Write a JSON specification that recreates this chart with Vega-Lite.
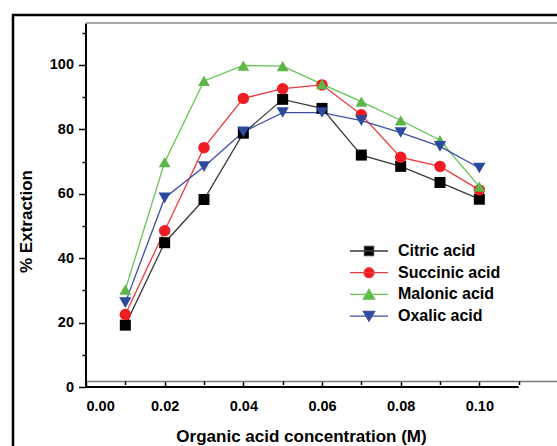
{
  "$schema": "https://vega.github.io/schema/vega-lite/v6.json",
  "width": 547,
  "height": 434,
  "autosize": {"type": "none"},
  "padding": {"left": 13, "top": 15, "right": -3, "bottom": -3},
  "background": "white",
  "config": {
    "view": {"stroke": "black", "strokeWidth": 2.5},
    "font": "Liberation Sans",
    "axis": {
      "grid": false,
      "domainColor": "black",
      "tickColor": "black",
      "labelColor": "black",
      "titleColor": "black",
      "labelFont": "Liberation Sans",
      "labelFontWeight": "bold",
      "labelFontSize": 14.5,
      "titleFont": "Liberation Sans",
      "titleFontWeight": "bold",
      "titleFontSize": 17,
      "domainWidth": 2,
      "tickWidth": 1.5
    },
    "legend": {
      "labelFont": "Liberation Sans",
      "labelFontWeight": "bold",
      "labelFontSize": 16,
      "labelColor": "black",
      "padding": 0
    }
  },
  "data": {
    "values": [
      {"c": 0.01, "acid": "Citric acid", "v": 19.2},
      {"c": 0.02, "acid": "Citric acid", "v": 44.8},
      {"c": 0.03, "acid": "Citric acid", "v": 58.2},
      {"c": 0.04, "acid": "Citric acid", "v": 78.8},
      {"c": 0.05, "acid": "Citric acid", "v": 89.3},
      {"c": 0.06, "acid": "Citric acid", "v": 86.5},
      {"c": 0.07, "acid": "Citric acid", "v": 72.0},
      {"c": 0.08, "acid": "Citric acid", "v": 68.5},
      {"c": 0.09, "acid": "Citric acid", "v": 63.5},
      {"c": 0.10, "acid": "Citric acid", "v": 58.3},
      {"c": 0.01, "acid": "Succinic acid", "v": 22.5},
      {"c": 0.02, "acid": "Succinic acid", "v": 48.5},
      {"c": 0.03, "acid": "Succinic acid", "v": 74.3},
      {"c": 0.04, "acid": "Succinic acid", "v": 89.6},
      {"c": 0.05, "acid": "Succinic acid", "v": 92.6},
      {"c": 0.06, "acid": "Succinic acid", "v": 93.8},
      {"c": 0.07, "acid": "Succinic acid", "v": 84.5},
      {"c": 0.08, "acid": "Succinic acid", "v": 71.3},
      {"c": 0.09, "acid": "Succinic acid", "v": 68.5},
      {"c": 0.10, "acid": "Succinic acid", "v": 61.2},
      {"c": 0.01, "acid": "Malonic acid", "v": 30.2},
      {"c": 0.02, "acid": "Malonic acid", "v": 69.8},
      {"c": 0.03, "acid": "Malonic acid", "v": 95.0},
      {"c": 0.04, "acid": "Malonic acid", "v": 99.8},
      {"c": 0.05, "acid": "Malonic acid", "v": 99.6},
      {"c": 0.06, "acid": "Malonic acid", "v": 94.0},
      {"c": 0.07, "acid": "Malonic acid", "v": 88.6},
      {"c": 0.08, "acid": "Malonic acid", "v": 82.8},
      {"c": 0.09, "acid": "Malonic acid", "v": 76.6},
      {"c": 0.10, "acid": "Malonic acid", "v": 62.2},
      {"c": 0.01, "acid": "Oxalic acid", "v": 26.2},
      {"c": 0.02, "acid": "Oxalic acid", "v": 58.7},
      {"c": 0.03, "acid": "Oxalic acid", "v": 68.4},
      {"c": 0.04, "acid": "Oxalic acid", "v": 79.2},
      {"c": 0.05, "acid": "Oxalic acid", "v": 85.2},
      {"c": 0.06, "acid": "Oxalic acid", "v": 85.2},
      {"c": 0.07, "acid": "Oxalic acid", "v": 82.7},
      {"c": 0.08, "acid": "Oxalic acid", "v": 79.0},
      {"c": 0.09, "acid": "Oxalic acid", "v": 74.7},
      {"c": 0.10, "acid": "Oxalic acid", "v": 68.0}
    ]
  },
  "layer": [
    {
      "mark": {"type": "line", "strokeWidth": 1.3},
      "encoding": {
        "x": {
          "field": "c", "type": "quantitative",
          "scale": {"domain": [0, 0.12], "range": [73, 545], "nice": false, "zero": false},
          "axis": {
            "orient": "bottom", "offset": -68, "values": [0, 0.02, 0.04, 0.06, 0.08, 0.1],
            "format": ".2f", "tickSize": 6, "labelPadding": 12,
            "domainColor": "#7a7a7a", "domainWidth": 1.5,
            "title": "Organic acid concentration (M)", "titlePadding": 16, "titleX": 288
          }
        },
        "y": {
          "field": "v", "type": "quantitative",
          "scale": {"domain": [0, 113], "range": [372, 8], "nice": false, "zero": false},
          "axis": {
            "orient": "left", "offset": -72.5, "values": [0, 20, 40, 60, 80, 100],
            "format": "d", "tickSize": 7, "labelPadding": 5,
            "title": "% Extraction", "titlePadding": 14, "titleY": 206
          }
        },
        "stroke": {
          "field": "acid", "type": "nominal",
          "scale": {
            "domain": ["Citric acid", "Succinic acid", "Malonic acid", "Oxalic acid"],
            "range": ["#3a3a3a", "#ee3b3b", "#66c455", "#3d4fa5"]
          },
          "legend": {
            "orient": "none", "legendX": 336, "legendY": 228, "title": null,
            "symbolSize": 1444, "symbolStrokeWidth": 1.3,
            "labelOffset": 9, "rowPadding": 5.7, "clipHeight": 16,
            "symbolType": {"expr": "datum.value === 'Citric acid' ? 'M-1,0H1M-0.24,-0.24H0.24V0.24H-0.24Z' : datum.value === 'Succinic acid' ? 'M-1,0H1M-0.26,0A0.26,0.26,0,1,0,0.26,0A0.26,0.26,0,1,0,-0.26,0Z' : datum.value === 'Malonic acid' ? 'M-1,0H1M0,-0.27L0.3,0.25L-0.3,0.25Z' : 'M-1,0H1M0,0.27L0.3,-0.25L-0.3,-0.25Z'"},
            "symbolFillColor": {"expr": "datum.value === 'Citric acid' ? '#000000' : datum.value === 'Succinic acid' ? '#ee1d23' : datum.value === 'Malonic acid' ? '#5db748' : '#2d4b9e'"}
          }
        }
      }
    },
    {
      "mark": {"type": "point", "filled": true, "opacity": 1, "strokeWidth": 0},
      "encoding": {
        "x": {
          "field": "c", "type": "quantitative",
          "scale": {"domain": [0, 0.12], "range": [73, 545], "nice": false, "zero": false},
          "axis": {
            "orient": "bottom", "offset": -68,
            "values": [0.01, 0.03, 0.05, 0.07, 0.09, 0.11],
            "labels": false, "domain": false, "tickSize": 3.5, "title": null
          }
        },
        "y": {
          "field": "v", "type": "quantitative",
          "scale": {"domain": [0, 113], "range": [372, 8], "nice": false, "zero": false},
          "axis": {
            "orient": "left", "offset": -72.5,
            "values": [10, 30, 50, 70, 90, 110],
            "labels": false, "domain": false, "tickSize": 3.5, "title": null
          }
        },
        "fill": {
          "field": "acid", "type": "nominal", "sort": null,
          "scale": {"range": ["#000000", "#ee1d23", "#5db748", "#2d4b9e"]},
          "legend": null
        },
        "shape": {
          "field": "acid", "type": "nominal", "sort": null,
          "scale": {"range": ["square", "circle", "triangle-up", "triangle-down"]},
          "legend": null
        },
        "size": {
          "field": "acid", "type": "nominal", "sort": null,
          "scale": {"range": [121, 150, 225, 225]},
          "legend": null
        }
      }
    },
    {
      "data": {"values": [{}]},
      "mark": {"type": "rule", "color": "#8a8a8a", "strokeWidth": 1.5},
      "encoding": {
        "x": {"datum": 0, "type": "quantitative", "axis": null},
        "x2": {"datum": 0.12},
        "y": {"datum": 113, "type": "quantitative", "axis": null}
      }
    },
    {
      "data": {"values": [{}]},
      "mark": {"type": "rule", "color": "black", "strokeWidth": 2},
      "encoding": {
        "x": {"datum": 0, "type": "quantitative", "axis": null},
        "x2": {"datum": 0.11},
        "y": {"datum": 0, "type": "quantitative", "axis": null}
      }
    }
  ],
  "resolve": {"axis": {"x": "independent", "y": "independent"}}
}
